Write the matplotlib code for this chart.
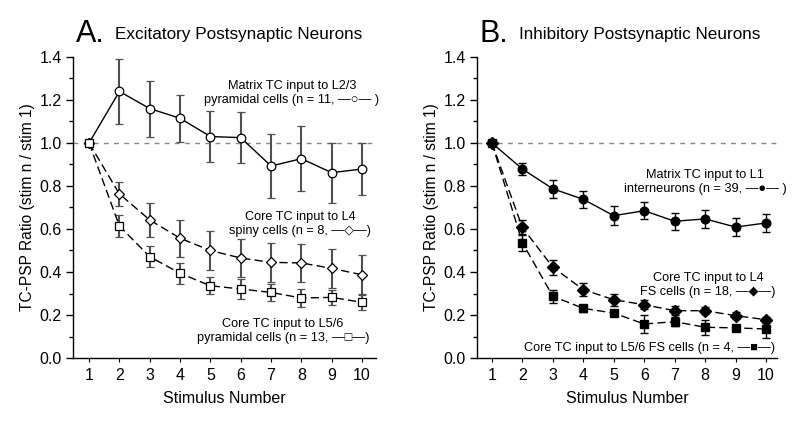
import matplotlib
matplotlib.use("Agg")
import matplotlib.pyplot as plt
from matplotlib.ticker import MultipleLocator

plt.rcParams['font.family'] = ['Liberation Sans', 'DejaVu Sans']

stim = [1, 2, 3, 4, 5, 6, 7, 8, 9, 10]

# Panel A: excitatory postsynaptic neurons
A_matrix = [1.0, 1.24, 1.16, 1.115, 1.03, 1.025, 0.893, 0.927, 0.862, 0.879]
A_matrix_err = [0.0, 0.15, 0.13, 0.11, 0.12, 0.12, 0.15, 0.15, 0.14, 0.12]
A_l4 = [1.0, 0.763, 0.642, 0.557, 0.50, 0.465, 0.445, 0.442, 0.417, 0.387]
A_l4_err = [0.0, 0.055, 0.08, 0.087, 0.09, 0.09, 0.09, 0.09, 0.09, 0.09]
A_l56 = [1.0, 0.614, 0.471, 0.394, 0.336, 0.321, 0.305, 0.279, 0.282, 0.259]
A_l56_err = [0.0, 0.05, 0.05, 0.05, 0.04, 0.045, 0.04, 0.04, 0.035, 0.035]

# Panel B: inhibitory postsynaptic neurons
B_l1 = [1.0, 0.879, 0.787, 0.738, 0.662, 0.685, 0.636, 0.647, 0.609, 0.628]
B_l1_err = [0.0, 0.03, 0.042, 0.04, 0.045, 0.04, 0.04, 0.043, 0.042, 0.04]
B_l4 = [1.0, 0.607, 0.422, 0.318, 0.271, 0.248, 0.22, 0.22, 0.197, 0.178]
B_l4_err = [0.0, 0.035, 0.036, 0.03, 0.028, 0.02, 0.02, 0.015, 0.015, 0.015]
B_l56 = [1.0, 0.536, 0.287, 0.231, 0.209, 0.158, 0.169, 0.143, 0.14, 0.135]
B_l56_err = [0.0, 0.04, 0.03, 0.015, 0.01, 0.04, 0.02, 0.035, 0.015, 0.04]

ylabel = "TC-PSP Ratio (stim n / stim 1)"
xlabel = "Stimulus Number"

W, H = 800, 428
fig = plt.figure(figsize=(8, 4.28), dpi=100)

def fx(px):
    return px / W

def fy(py):
    return 1 - py / H

axA = fig.add_axes([fx(73), fy(358), fx(376) - fx(73), fy(57) - fy(358)])
axB = fig.add_axes([fx(477), fy(358), fx(777) - fx(477), fy(57) - fy(358)])


def style(ax, xlim):
    ax.set_xlim(*xlim)
    ax.set_ylim(0, 1.4)
    for s in ['top', 'right']:
        ax.spines[s].set_visible(False)
    for s in ['left', 'bottom']:
        ax.spines[s].set_linewidth(1.0)
    ax.set_xticks(stim)
    ax.yaxis.set_major_locator(MultipleLocator(0.2))
    ax.yaxis.set_minor_locator(MultipleLocator(0.1))
    ax.set_yticklabels([f"{v:.1f}" for v in ax.get_yticks()])
    ax.tick_params(axis='y', which='major', direction='out', length=5, width=1, labelsize=11.5, pad=3)
    ax.tick_params(axis='y', which='minor', direction='out', length=3, width=1)
    ax.tick_params(axis='x', which='major', direction='out', length=3, width=0.8, labelsize=11.5, pad=4)
    ax.axhline(1.0, color='#888888', lw=1.0, dashes=(3.5, 3.8), zorder=0)
    ax.set_xlabel(xlabel, fontsize=11.5, labelpad=6)
    ax.set_ylabel(ylabel, fontsize=11.2, labelpad=3)


style(axA, (0.47, 10.46))
style(axB, (0.51, 10.36))

gray = '#505050'
axA.errorbar(stim, A_matrix, yerr=A_matrix_err, color='black', ecolor=gray, elinewidth=1.5,
             capsize=3, capthick=1.0, marker='o', markersize=6.2, markerfacecolor='white',
             markeredgecolor='black', markeredgewidth=0.9, linestyle='-', linewidth=1.0, zorder=3)
for y, e, m, ms in [(A_l4, A_l4_err, 'D', 5.6), (A_l56, A_l56_err, 's', 6.0)]:
    axA.errorbar(stim, y, yerr=e, color='black', ecolor=gray, elinewidth=1.5,
                 capsize=3, capthick=1.0, marker=m, markersize=ms, markerfacecolor='white',
                 markeredgecolor='black', markeredgewidth=0.9, linestyle=(0, (6, 3)),
                 linewidth=1.0, zorder=3)

axB.errorbar(stim, B_l1, yerr=B_l1_err, color='black', ecolor='black', elinewidth=1.0,
             capsize=3, capthick=1.0, marker='o', markersize=6.2, markerfacecolor='black',
             markeredgecolor='black', linestyle='-', linewidth=1.0, zorder=3)
for y, e, m, ms in [(B_l56, B_l56_err, 's', 6.0), (B_l4, B_l4_err, 'D', 5.8)]:
    axB.errorbar(stim, y, yerr=e, color='black', ecolor='black', elinewidth=1.0,
                 capsize=3, capthick=1.0, marker=m, markersize=ms, markerfacecolor='black',
                 markeredgecolor='black', linestyle=(0, (6, 3)), linewidth=1.0, zorder=3)

# Panel titles
fig.text(fx(76), fy(34), "A.", fontsize=22, ha='left', va='center')
fig.text(fx(115), fy(34), "Excitatory Postsynaptic Neurons", fontsize=12.3, ha='left', va='center')
fig.text(fx(480), fy(34), "B.", fontsize=22, ha='left', va='center')
fig.text(fx(519), fy(34), "Inhibitory Postsynaptic Neurons", fontsize=12.3, ha='left', va='center')

ann = 9.2
def note(px, py, s):
    fig.text(fx(px), fy(py), s, fontsize=ann, ha='center', va='center', linespacing=1.2)

note(292, 93, "Matrix TC input to L2/3\npyramidal cells (n = 11, \u2014\u25cb\u2014 )")
note(300, 224, "Core TC input to L4\nspiny cells (n = 8, \u2014\u25c7\u2014)")
note(283, 331, "Core TC input to L5/6\npyramidal cells (n = 13, \u2014\u25a1\u2014)")
note(705, 182, "Matrix TC input to L1\ninterneurons (n = 39, \u2014\u25cf\u2014 )")
note(708, 285, "Core TC input to L4\nFS cells (n = 18, \u2014\u25c6\u2014)")
note(650, 348, "Core TC input to L5/6 FS cells (n = 4, \u2014\u25a0\u2014)")

fig.savefig("out.png", dpi=100)
